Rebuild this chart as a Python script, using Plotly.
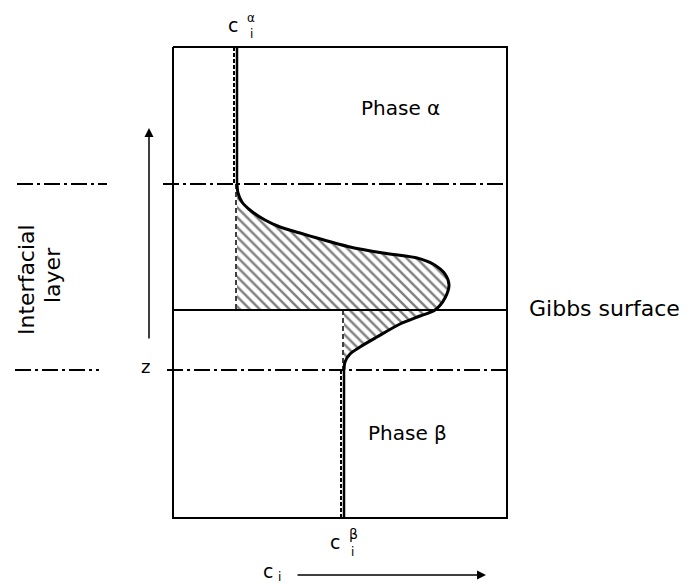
import plotly.graph_objects as go

# Diagram coordinates (c to the right, z downward on screen)
box_c = [173, 507]
box_z = [47, 518]
z_top = 184        # upper edge of interfacial layer
z_gibbs = 310      # Gibbs dividing surface
z_bottom = 370     # lower edge of interfacial layer
c_alpha = 237      # bulk concentration in phase alpha
c_beta = 344       # bulk concentration in phase beta

# Concentration profile through the interfacial layer
profile_c = [237, 238, 242, 250, 265, 280, 300, 317, 350, 383, 417, 433, 445, 449, 445,
             435, 420, 400, 377, 360, 350, 345, 344]
profile_z = [184, 193, 202, 210, 220, 227, 233, 238, 247, 253, 258, 264, 274, 285, 298,
             310, 316, 324, 337, 347, 354, 362, 370]
i_gibbs = profile_z.index(z_gibbs)

# Left-hand marker lines for the interfacial layer
marker_c = [[17, 107], [15, 99]]

FONT = "DejaVu Sans"
dashdot = "16px,4px,3px,4px"
PAGE = 8  # default body margin of the html page

fig = go.Figure()

# Hatched areas (surface excess)
up_c = [c_alpha] + profile_c[:i_gibbs + 1] + [c_alpha]
up_z = [z_top] + profile_z[:i_gibbs + 1] + [z_gibbs]
lo_c = profile_c[i_gibbs:] + [c_beta, c_beta]
lo_z = profile_z[i_gibbs:] + [z_bottom, z_gibbs]
for xs, ys in [(up_c, up_z), (lo_c, lo_z)]:
    fig.add_trace(go.Scatter(
        x=xs, y=ys, mode="lines", fill="toself", line=dict(width=0),
        fillcolor="white",
        fillpattern=dict(shape="\\", size=7, solidity=0.35, fgcolor="black", bgcolor="white"),
        hoverinfo="skip"))

# Box
fig.add_trace(go.Scatter(
    x=[box_c[0], box_c[1], box_c[1], box_c[0], box_c[0]],
    y=[box_z[0], box_z[0], box_z[1], box_z[1], box_z[0]],
    mode="lines", line=dict(color="black", width=2), hoverinfo="skip"))

# Gibbs surface
fig.add_trace(go.Scatter(x=[box_c[0], box_c[1]], y=[z_gibbs, z_gibbs], mode="lines",
                         line=dict(color="black", width=2), hoverinfo="skip"))

# Interfacial layer boundaries
for z, c0 in [(z_top, 163), (z_bottom, 167)]:
    fig.add_trace(go.Scatter(x=[c0, box_c[1]], y=[z, z], mode="lines",
                             line=dict(color="black", width=2, dash=dashdot), hoverinfo="skip"))
for (c0, c1), z in zip(marker_c, [z_top, z_bottom]):
    fig.add_trace(go.Scatter(x=[c0, c1], y=[z, z], mode="lines",
                             line=dict(color="black", width=2, dash=dashdot), hoverinfo="skip"))

# Bulk concentration lines (solid with dashed edge)
for c, z0, z1 in [(c_alpha, box_z[0], z_top), (c_beta, z_bottom, box_z[1])]:
    fig.add_trace(go.Scatter(x=[c, c], y=[z0, z1], mode="lines",
                             line=dict(color="black", width=2.5), hoverinfo="skip"))
    fig.add_trace(go.Scatter(x=[c - 3, c - 3], y=[z0, z1], mode="lines",
                             line=dict(color="black", width=2, dash="4px,2px"), hoverinfo="skip"))
for c, z0, z1 in [(c_alpha - 1, z_top, z_gibbs), (c_beta - 1, z_gibbs, z_bottom)]:
    fig.add_trace(go.Scatter(x=[c, c], y=[z0, z1], mode="lines",
                             line=dict(color="black", width=1.5, dash="5px,3px"), hoverinfo="skip"))

# Profile curve
fig.add_trace(go.Scatter(x=profile_c, y=profile_z, mode="lines",
                         line=dict(color="black", width=3, shape="spline", smoothing=0.8),
                         hoverinfo="skip"))


def f(size):
    return dict(family=FONT, size=size, color="black")


txt = dict(showarrow=False, xref="x", yref="y")
annotations = [
    dict(text="Phase α", x=400, y=108, font=f(20), **txt),
    dict(text="Phase β", x=407, y=433, font=f(20), **txt),
    dict(text="Gibbs surface", x=604, y=308, font=f(22), **txt),
    dict(text="z", x=145, y=366, font=f(18), **txt),
    dict(text="Interfacial", x=26, y=280, textangle=-90, font=f(22), **txt),
    dict(text="layer", x=52, y=275, textangle=-90, font=f(22), **txt),
    dict(text="c", x=233, y=25, font=f(19), **txt),
    dict(text="α", x=251, y=18, font=f(12), **txt),
    dict(text="i", x=251, y=34, font=f(12), **txt),
    dict(text="c", x=335, y=542, font=f(19), **txt),
    dict(text="β", x=353, y=534, font=f(14), **txt),
    dict(text="i", x=352, y=552, font=f(12), **txt),
    dict(text="c", x=268, y=571, font=f(19), **txt),
    dict(text="i", x=279, y=577, font=f(12), **txt),
    # z axis arrow
    dict(x=149, y=128, ax=149, ay=340, xref="x", yref="y", axref="x", ayref="y", text="",
         showarrow=True, arrowhead=2, arrowsize=1.2, arrowwidth=1.5, arrowcolor="black"),
    # c_i axis arrow
    dict(x=486, y=575, ax=296, ay=575, xref="x", yref="y", axref="x", ayref="y", text="",
         showarrow=True, arrowhead=2, arrowsize=1.2, arrowwidth=1.5, arrowcolor="black"),
]

fig.update_layout(
    width=687 - PAGE, height=586 - PAGE,
    margin=dict(l=0, r=0, t=0, b=0),
    paper_bgcolor="white", plot_bgcolor="white",
    showlegend=False,
    annotations=annotations,
    xaxis=dict(range=[PAGE, 687], visible=False, fixedrange=True),
    yaxis=dict(range=[586, PAGE], visible=False, fixedrange=True),
)

fig.write_html("out.html")
